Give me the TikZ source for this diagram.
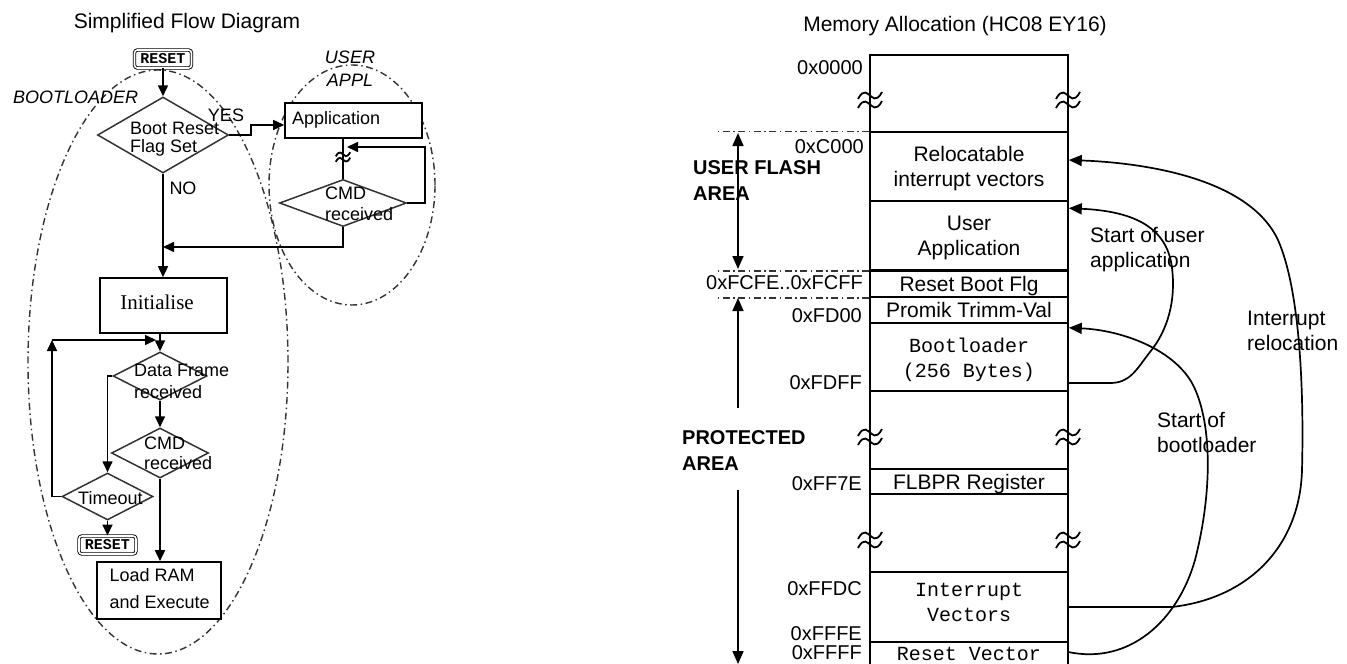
\documentclass[tikz,border=0pt]{standalone}
\usepackage{fontspec}
\setmainfont{Liberation Sans}
\newfontfamily\monof{Liberation Mono}
\newfontfamily\seriff{Liberation Serif}
\usetikzlibrary{arrows.meta,shapes.geometric,calc}
\begin{document}
\begin{tikzpicture}[x=1pt,y=-1pt,
  ln/.style={line width=1.6pt},
  arr/.style={line width=1.6pt,-{Triangle[length=11pt,width=10pt]}},
  marr/.style={line width=1.7pt,-{Triangle[length=13pt,width=11pt]}},
  dd/.style={dash pattern=on 7pt off 3.5pt on 1.5pt off 3.5pt, line width=1.4pt, draw=black!80},
  dia/.style={diamond, draw=black!80, line width=1.5pt, fill=white, inner sep=0pt},
  box/.style={draw, line width=1.6pt, fill=white, inner sep=0pt},
  rsbox/.style={draw, double, double distance=1.6pt, line width=0.9pt, rounded corners=3pt,
     minimum width=57pt, minimum height=18pt, inner sep=0pt, fill=white,
     font=\monof\bfseries\fontsize{15}{15}\selectfont},
  ft/.style={font=\fontsize{18}{21}\selectfont, text height=12.9pt, text depth=0pt, inner sep=0pt, align=left},
  mtxt/.style={font=\fontsize{20}{25}\selectfont, text height=14.3pt, text depth=0pt, inner sep=0pt, align=left},
  ctxt/.style={font=\fontsize{21}{25}\selectfont, text height=40pt, text depth=0pt, inner sep=0pt, align=left},
  ttxt/.style={font=\fontsize{21}{25}\selectfont, text height=15pt, text depth=0pt, inner sep=0pt},
  btxt/.style={font=\bfseries\fontsize{20}{26}\selectfont, text height=40.3pt, text depth=0pt, inner sep=0pt, align=left},
  mem/.style={draw, line width=1.6pt, fill=white, minimum width=198pt, inner sep=0pt,
     font=\fontsize{21}{25}\selectfont, text height=15pt, text depth=0pt, align=center},
  two/.style={text height=40pt},
  monot/.style={font=\monof\fontsize{20}{25}\selectfont},
  brk/.pic={
    \foreach \o in {-4.5,4.5}
      \draw[line width=1.8pt] (-12,\o+3.5) .. controls (-6,\o-8) and (-2,\o-1) .. (0,\o) .. controls (2,\o+1) and (6,\o+8) .. (12,\o-3.5);
  }
]
\useasboundingbox (0,0) rectangle (1347,664);

% ---------------- Titles ----------------
\node[ttxt] (t1) at (187,20.5) {Simplified Flow Diagram};
\node[ttxt] (t2) at (955,24) {Memory Allocation (HC08 EY16)};

% ---------------- Flow diagram ----------------
\node[ellipse, dd, minimum width=260pt, minimum height=584pt, inner sep=0pt] (bl) at (158,362) {};
\node[ellipse, dd, minimum width=166pt, minimum height=240pt, inner sep=0pt] (ua) at (352,185) {};

\node[rsbox] (rs1) at (163,59) {RESET};
\node[dia, minimum width=131pt, minimum height=76pt] (d1) at (163,135) {};
\node[ft, anchor=west, font=\fontsize{18}{18}\selectfont, text height=30.9pt] (td1) at (130,137) {Boot Reset\\Flag Set};

\node[box, minimum width=137pt, minimum height=35pt] (app) at (353.5,120.5) {};
\node[ft, anchor=west] (tapp) at (292,118) {Application};

\node[dia, minimum width=127pt, minimum height=47pt] (d2) at (343,203) {};
\node[ft, anchor=west, font=\fontsize{18}{21}\selectfont, text height=33.9pt] (td2) at (325,203.5) {CMD\\received};

\node[box, minimum width=127pt, minimum height=55pt] (init) at (163.5,305.5) {};
\node[font=\seriff\fontsize{21}{21}\selectfont, text height=14pt, text depth=0pt, inner sep=0pt] (tinit) at (157,302) {Initialise};

\node[dia, minimum width=94pt, minimum height=48pt] (d3) at (160,376) {};
\node[ft, anchor=west, font=\fontsize{18}{22}\selectfont, text height=34.9pt] (td3) at (134,381) {Data Frame\\received};

\node[dia, minimum width=97pt, minimum height=50pt] (d4) at (160,453) {};
\node[ft, anchor=west, font=\fontsize{18}{20}\selectfont, text height=32.9pt] (td4) at (144,453) {CMD\\received};

\node[dia, minimum width=91pt, minimum height=47pt] (d5) at (107.5,496.5) {};
\node[ft, anchor=west] (td5) at (78,498) {Timeout};

\node[rsbox] (rs2) at (107.5,545) {RESET};

\node[box, minimum width=124pt, minimum height=57pt] (load) at (159,590.5) {};
\node[ft, anchor=west, font=\fontsize{18}{27}\selectfont, text height=39.9pt] (tload) at (109.5,588.5) {Load RAM\\and Execute};

\node[ft] (yes) at (226,115) {YES};
\node[ft] (no) at (183,188) {NO};
\node[ft, anchor=west, font=\itshape\fontsize{18}{21}\selectfont] (blt) at (13,97) {BOOTLOADER};
\node[ft, font=\itshape\fontsize{18}{21}\selectfont] (usr) at (350,57) {USER};
\node[ft, font=\itshape\fontsize{18}{21}\selectfont] (appl) at (350,80) {APPL};

\coordinate (j1) at (163,247);
\coordinate (j2) at (347,147);
\coordinate (j3) at (52,340);
\coordinate (j4) at (156,340);

\draw[arr] (rs1.south) -- (d1.north);
\draw[arr] (d1.east) -- ++(22,0) |- ([yshift=-4.5pt]app.west);
\draw[arr] (d1.south) -- (d1.south |- init.north);
\draw[arr] (d2.south) |- (j1);
\draw[ln] (d2.north) -- (d2.north |- app.south);
\pic[scale=0.6] at (343,157) {brk};
\draw[arr] (d2.east) -- ++(18,0) |- (j2);
\draw[arr] (d3.north |- init.south) -- (d3.north);
\draw[arr] (d3.south) -- (d4.north);
\draw[arr] (d3.west) -| (d5.north);
\draw[arr] (d5.south) -- (rs2.north);
\draw[arr] (d4.south) -- (d4.south |- load.north);
\draw[arr] (d5.west) -| (j3);
\draw[arr] (j3) -- (j4);

% ---------------- Memory map ----------------
\node[mem, two, minimum height=69pt] (reloc) at (969,166.5) {Relocatable\\interrupt vectors};
\node[mem, two, minimum height=69pt] (uapp) at (969,235.5) {User\\Application};
\node[mem, minimum height=27pt] (rbf) at (969,283.5) {Reset Boot Flg};
\node[mem, minimum height=26pt] (prom) at (969,310) {Promik Trimm-Val};
\node[mem, two, monot, minimum height=68pt] (boot) at (969,357) {Bootloader\\(256 Bytes)};
\node[mem, minimum height=25pt] (flb) at (969,481.5) {FLBPR Register};
\node[mem, two, monot, minimum height=70pt, text depth=11pt] (intv) at (969,607) {Interrupt\\Vectors};
\node[mtxt, monot, minimum width=198pt, minimum height=22pt, align=center] (rvec) at (969,653) {Reset Vector};

\coordinate (ctl) at (870,55);
\coordinate (ctr) at (1068,55);
\coordinate (cbl) at (870,664);
\coordinate (cbr) at (1068,664);
\draw[ln] (cbl) -- (ctl) -- (ctr) -- (cbr);
\draw[line width=2.8pt] (uapp.south west) -- (uapp.south east);

\foreach \yy in {100,437,540} {
  \pic at (870,\yy) {brk};
  \pic at (1068,\yy) {brk};
}

% address labels
\node[mtxt, anchor=east] (a1) at (863,67) {0x0000};
\node[mtxt, anchor=east] (a2) at (864,146) {0xC000};
\node[mtxt, anchor=east] (a3) at (863,282) {0xFCFE..0xFCFF};
\node[mtxt, anchor=east] (a4) at (862,315) {0xFD00};
\node[mtxt, anchor=east] (a5) at (862,382) {0xFDFF};
\node[mtxt, anchor=east] (a6) at (862,483) {0xFF7E};
\node[mtxt, anchor=east] (a7) at (862,588) {0xFFDC};
\node[mtxt, anchor=east] (a8) at (862,633) {0xFFFE};
\node[mtxt, anchor=east] (a9) at (862,652) {0xFFFF};

% area markers
\draw[dd] (reloc.north west) -- ++(-153,0);
\draw[dd] (uapp.south west) -- ++(-153,0);
\draw[dd] (rbf.south west) -- ++(-153,0);

\coordinate (ufa) at (738,133);
\coordinate (ufb) at (738,269);
\draw[line width=1.7pt, {Triangle[length=13pt,width=11pt]}-{Triangle[length=13pt,width=11pt]}] (ufb) -- (ufa);
\node[btxt, anchor=west] (ufl) at (693,180) {USER FLASH\\AREA};

\coordinate (pa1) at (738,408);
\coordinate (pa2) at (738,298);
\coordinate (pa3) at (738,490);
\coordinate (pa4) at (738,664);
\draw[marr] (pa1) -- (pa2);
\draw[marr] (pa3) -- (pa4);
\node[btxt, anchor=west] (pal) at (682,450) {PROTECTED\\AREA};

% curved arrows
\draw[marr] (intv.east) -- (1172,607) .. controls (1250,598) and (1300,545) .. (1302,470)
   .. controls (1304,390) and (1300,290) .. (1278,240)
   .. controls (1250,180) and (1150,163) .. ([yshift=6.5pt]reloc.east);
\draw[marr] ([yshift=1pt]rvec.east) .. controls (1130,665) and (1178,620) .. (1195,560)
   .. controls (1213,490) and (1212,420) .. (1192,383)
   .. controls (1172,348) and (1120,330) .. ([yshift=-4pt]prom.south east);
\draw[marr] ([yshift=-26pt]boot.east) -- (1110,383) .. controls (1130,383) and (1136,370) .. (1150,352)
   .. controls (1168,330) and (1176,300) .. (1172,268)
   .. controls (1167,225) and (1130,211) .. ([yshift=-8pt]uapp.north east);

\node[ctxt, anchor=west] (lsu) at (1090,247.5) {Start of user\\application};
\node[ctxt, anchor=west] (lir) at (1247,330.5) {Interrupt\\relocation};
\node[ctxt, anchor=west] (lsb) at (1157,432) {Start of\\bootloader};
\end{tikzpicture}
\end{document}
